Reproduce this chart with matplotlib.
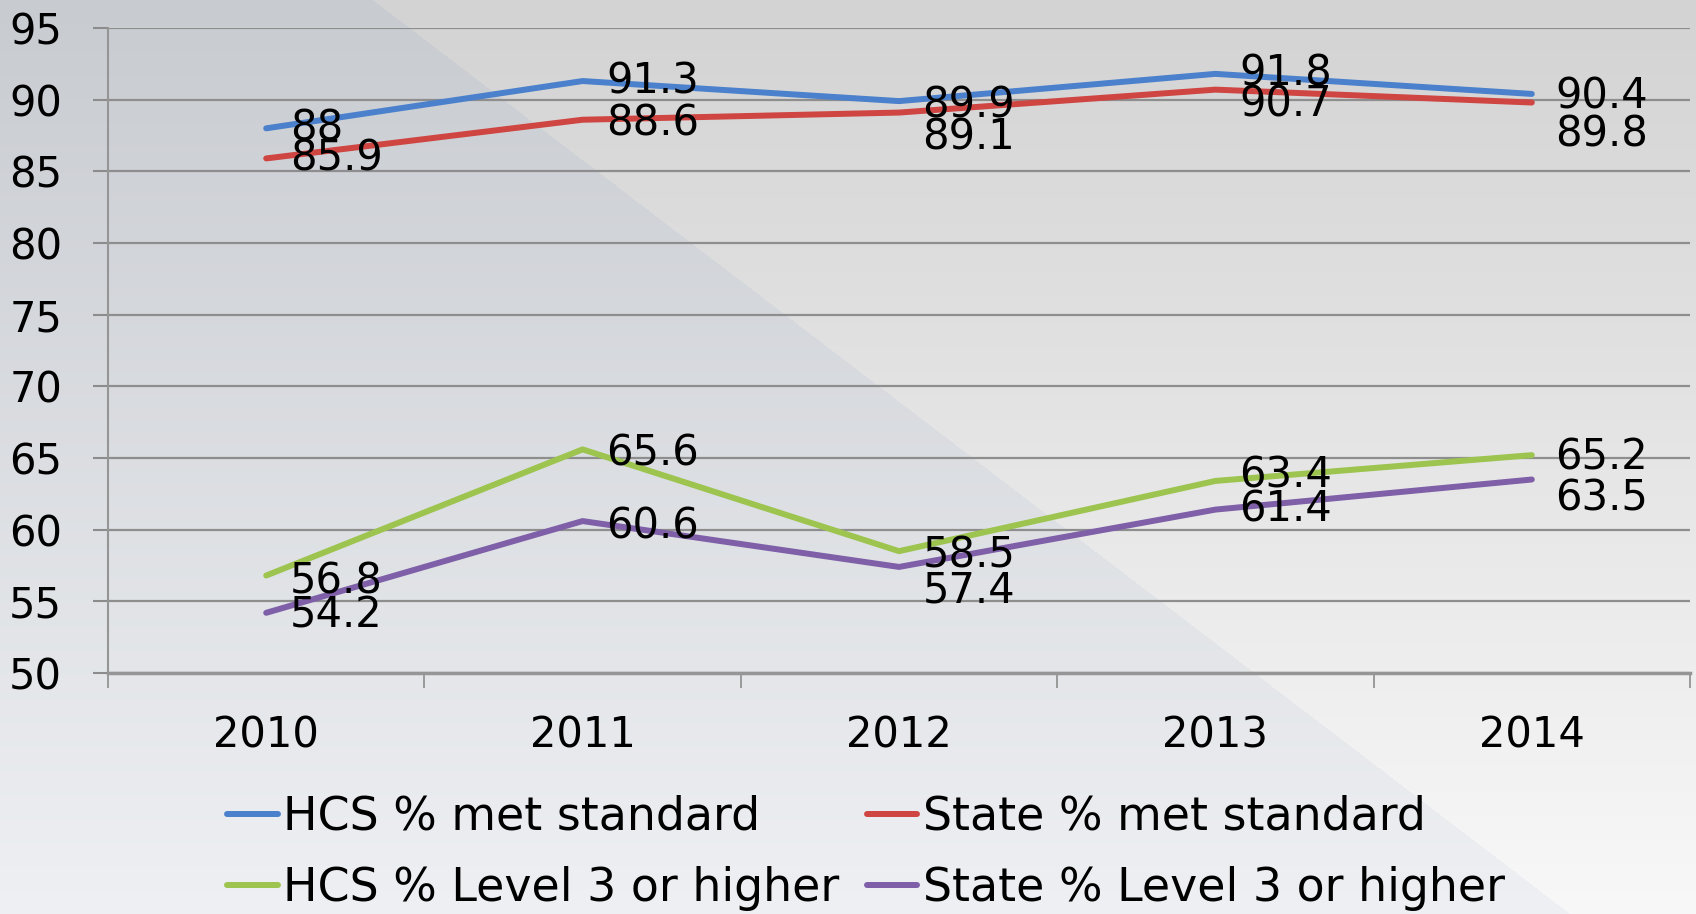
import numpy as np
import matplotlib
matplotlib.use('Agg')
import matplotlib.pyplot as plt
from matplotlib.lines import Line2D

years = ['2010', '2011', '2012', '2013', '2014']
hcs_met = [88, 91.3, 89.9, 91.8, 90.4]
state_met = [85.9, 88.6, 89.1, 90.7, 89.8]
hcs_l3 = [56.8, 65.6, 58.5, 63.4, 65.2]
state_l3 = [54.2, 60.6, 57.4, 61.4, 63.5]

names = ['HCS % met standard', 'State % met standard',
         'HCS % Level 3 or higher', 'State % Level 3 or higher']
series = [hcs_met, state_met, hcs_l3, state_l3]
colors = ['#4a80cc', '#cf4542', '#9cc44f', '#7e5fa8']

# vertical nudges (points) of the data labels, as placed in the original
label_dy = [[0, 0, -3, 0, -2],
            [0, -3, -18, -11, -23],
            [-4, -3, -3, 4, -2],
            [-2, -4, -17, 0, -14]]

plt.rcParams['font.family'] = ['DejaVu Sans']

W, H = 1696, 914
fig = plt.figure(figsize=(W / 100, H / 100), dpi=100)

# background gradient with a diagonal band
bg = fig.add_axes([0, 0, 1, 1], zorder=-10)
yy, xx = np.mgrid[0:H, 0:W]
t = (yy / H)[..., None]
left = np.array([200, 203, 208]) * (1 - t) + np.array([238, 240, 243]) * t
right = np.array([211, 211, 211]) * (1 - t) + np.array([248, 248, 248]) * t
mask = (xx < 373 + 1.31 * yy)[..., None]
img = np.where(mask, left, right) / 255.0
bg.imshow(img, aspect='auto', extent=[0, 1, 0, 1])
bg.axis('off')

ax = fig.add_axes([108 / W, 1 - 673 / H, (1690 - 108) / W, (673 - 28) / H])
ax.set_facecolor('none')

x = np.arange(len(years))
for vals, c, dys in zip(series, colors, label_dy):
    ax.plot(x, vals, color=c, lw=4.3, solid_capstyle='round',
            solid_joinstyle='round', zorder=3)
    for xi, v, dy in zip(x, vals, dys):
        ax.annotate(f'{v:g}', (xi, v), xytext=(17, dy), textcoords='offset points',
                    ha='left', va='center', fontsize=30, zorder=4)

ax.set_ylim(50, 95)
ax.set_yticks(range(50, 96, 5))
ax.set_xlim(-0.5, 4.5)
ax.set_xticks(x)
ax.set_xticklabels(years)
ax.set_xticks(np.arange(-0.5, 4.6, 1), minor=True)
ax.tick_params(axis='x', which='major', length=0, pad=30, labelsize=30)
ax.tick_params(axis='x', which='minor', length=11, width=1.2, color='#8c8c8c')
ax.tick_params(axis='y', length=11, width=1.5, color='#8c8c8c', pad=22, labelsize=30)
ax.grid(axis='y', color='#8e8e8e', lw=1.6)
ax.set_axisbelow(True)
for s in ['top', 'right']:
    ax.spines[s].set_visible(False)
ax.spines['left'].set_color('#959595')
ax.spines['left'].set_linewidth(1.5)
ax.spines['bottom'].set_color('#959595')
ax.spines['bottom'].set_linewidth(2.5)

order = [0, 2, 1, 3]
handles = [Line2D([], [], color=colors[i], lw=4.3, solid_capstyle='round') for i in order]
fig.legend(handles, [names[i] for i in order], ncol=2, frameon=False,
           loc='center', bbox_to_anchor=(866 / W, 1 - 853 / H),
           fontsize=33, handlelength=1.1, handletextpad=0.12,
           columnspacing=0.6, labelspacing=0.58)

fig.savefig('out.png', dpi=100)
